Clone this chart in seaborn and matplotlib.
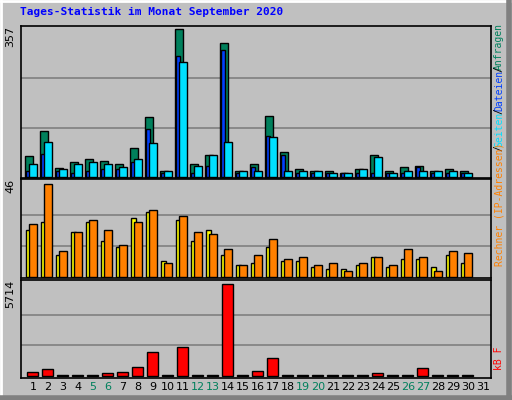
import numpy as np
import pandas as pd
import matplotlib
matplotlib.use("Agg")
import matplotlib.pyplot as plt
import seaborn as sns

days = list(range(1, 31))
hits  = [50,110,21,36,42,37,30,69,144,15,357,32,52,323,13,30,146,61,18,15,13,10,18,52,13,23,27,15,18,13]
files = [14,54,14,10,14,19,19,35,115,9,292,10,26,306,10,23,99,52,9,9,9,9,9,9,9,9,23,9,9,10]
pages = [32,83,18,30,35,30,23,44,81,15,277,25,52,83,13,15,95,15,13,13,8,10,18,47,10,15,13,15,13,8]
visits= [23,27,11,22,27,18,15,29,32,8,28,18,23,11,6,7,15,8,8,5,4,4,6,10,5,9,9,5,11,7]
sites = [26,46,13,22,28,23,16,27,33,7,30,22,21,14,6,11,19,9,10,6,7,3,7,10,6,14,10,3,13,12]
kbytes= [208,417,15,15,15,146,208,521,1480,15,1793,15,15,5714,15,292,1084,15,15,15,15,15,15,146,15,15,459,15,15,15]
tick_labels = [str(d) for d in range(1, 32)]
weekend = {5,6,12,13,19,20,26,27}

GREEN, BLUE, CYAN = "#00805c", "#0040ff", "#00e0ff"
YELLOW, ORANGE, RED = "#ffff00", "#ff8000", "#ff0000"
BG = "#c0c0c0"

sns.set_theme(style="white")
plt.rcParams['font.family'] = ['DejaVu Sans Mono', 'DejaVu Sans']

fig = plt.figure(figsize=(5.12, 4.0), dpi=100, facecolor=BG)
W, H = 512, 400
def axes_px(x0, y0, x1, y1):
    return fig.add_axes([x0/W, 1-y1/H, (x1-x0)/W, (y1-y0)/H])

# 3D frame
fig.add_artist(plt.Line2D([0.002, 0.002], [0, 1], color="white", lw=2, transform=fig.transFigure))
fig.add_artist(plt.Line2D([0, 1], [0.998, 0.998], color="white", lw=2, transform=fig.transFigure))
fig.add_artist(plt.Line2D([0.994, 0.994], [0, 1], color="#808080", lw=4, transform=fig.transFigure))
fig.add_artist(plt.Line2D([0, 1], [0.006, 0.006], color="#808080", lw=4, transform=fig.transFigure))

ax1 = axes_px(21, 26, 491, 178)
ax2 = axes_px(21, 179, 491, 278)
ax3 = axes_px(21, 280, 491, 378)

d = np.array(days, dtype=float)
def bars(ax, vals, off, w, color):
    df = pd.DataFrame({"x": d + off, "y": vals})
    sns.barplot(data=df, x="x", y="y", native_scale=True, width=w, color=color,
                edgecolor="black", linewidth=1, saturation=1, ax=ax, zorder=3)

bars(ax1, hits, -0.27, 0.5, GREEN)
bars(ax1, files, -0.33, 0.25, BLUE)
bars(ax1, pages, 0.0, 0.48, CYAN)
bars(ax2, visits, -0.3, 0.38, YELLOW)
bars(ax2, sites, 0.0, 0.48, ORANGE)
bars(ax3, kbytes, -0.05, 0.7, RED)

for ax, mx, lo, hi in [(ax1, 357, -3.1, 365), (ax2, 46, -0.65, 48.6), (ax3, 5714, -144, 5983)]:
    ax.set_facecolor(BG)
    ax.set_xlim(0.2, 31.53)
    ax.set_ylim(lo, hi)
    for g in (mx/3, 2*mx/3):
        ax.axhline(g, color="#808080", lw=1.2, zorder=1)
    ax.set_xticks([]); ax.set_yticks([])
    ax.set_xlabel(""); ax.set_ylabel("")
    for s in ax.spines.values():
        s.set_color("black"); s.set_linewidth(1.2)
    ax.text(-0.012, 1.0, str(mx), transform=ax.transAxes, rotation=90,
            ha="right", va="top", fontsize=8, family="DejaVu Sans", color="black")

ax3.set_xticks(range(1, 32))
ax3.set_xticklabels(tick_labels, fontsize=8, family="DejaVu Sans")
ax3.tick_params(axis="x", length=0, pad=3)
for lbl, dd in zip(ax3.get_xticklabels(), range(1, 32)):
    lbl.set_color(GREEN if dd in weekend else "black")

fig.text(20/W, 1-12/H, "Tages-Statistik im Monat September 2020", color="#0000ff",
         fontsize=8, fontweight="bold", va="center", ha="left")

def rtext(y, s, c):
    fig.text(499/W, 1-y/H, s, rotation=90, color=c, fontsize=7, ha="center", va="center")
rtext(46, "Anfragen", GREEN)
rtext(69, "/", "black")
rtext(90, "Dateien", BLUE)
rtext(111, "/", "black")
rtext(129, "Seiten", CYAN)
rtext(148, "/", "black")
rtext(204, "Rechner (IP-Adressen)", ORANGE)
rtext(358, "kB F", RED)

fig.savefig("out.png", dpi=100, facecolor=BG)
